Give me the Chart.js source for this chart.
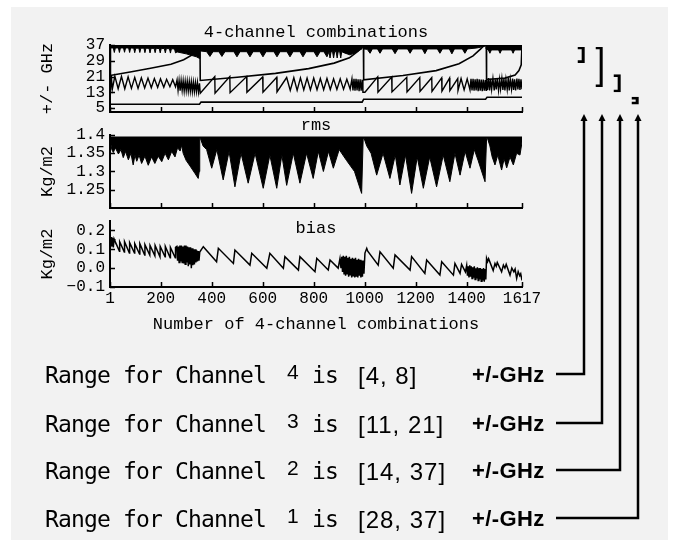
<!DOCTYPE html>
<html>
<head>
<meta charset="utf-8">
<title>4-channel combinations</title>
<script src="https://cdn.jsdelivr.net/npm/chart.js@4.4.1/dist/chart.umd.min.js"></script>
<style>
  html, body { margin: 0; padding: 0; background: #fff; }
  #page { position: relative; width: 677px; height: 548px; overflow: hidden; }
  #panel { position: absolute; left: 11px; top: 7px; width: 657px; height: 533px; background: #f2f2f2; }
  canvas { position: absolute; left: 0; top: 0; }
  .row { position: absolute; left: 45px; width: 560px; height: 30px; line-height: 30px; color: #000; white-space: nowrap; }
  .row span { position: absolute; top: 0; }
  .lbl { font: 23px "DejaVu Sans Mono", monospace; letter-spacing: -0.85px; }
  .num { font: 21px "Liberation Sans", Arial, sans-serif; left: 242px; }
  .row span.num { top: -2px; }
  .is { left: 267px; }
  .rng { font: 24px "Liberation Sans", Arial, sans-serif; letter-spacing: 1px; left: 313px; }
  .unit { font: bold 22px "Liberation Sans", Arial, sans-serif; letter-spacing: 0.4px; left: 427px; }
</style>
</head>
<body>
<div id="page">
  <div id="panel"></div>
  <canvas id="freqChart" width="677" height="548"></canvas>
  <canvas id="rmsChart" width="677" height="548"></canvas>
  <canvas id="biasChart" width="677" height="548"></canvas>
  <canvas id="rangeChart" width="677" height="548"></canvas>
</div>
<script>
// ---- data ----
const comboTicks = [1, 200, 400, 600, 800, 1000, 1200, 1400, 1617];
const ghzTicks = [5, 13, 21, 29, 37];
const rmsTicks = [1.25, 1.3, 1.35, 1.4];
const biasTicks = [-0.1, 0, 0.1, 0.2];

const channelNames = ['1', '2', '3', '4'];
const channelRanges = [[28, 37], [14, 37], [11, 21], [4, 8]];
const rowChannels = [4, 3, 2, 1];

// channel 1 is a dense band hanging from its upper limit; this is its lower edge
const ch1Ceiling = 37;
const ch1Low = [
  [1,21.5],[4,35.5],[14,35.5],[18,33.2],[22,35.5],[34,35.5],[38,33.2],[42,35.5],[54,35.5],[58,33.3],
  [62,35.5],[74,35.5],[78,33.2],[82,35.5],[94,35.4],[98,33.1],[102,35.4],[114,35.4],[118,33.2],[122,35.4],
  [134,35.4],[138,33.1],[142,35.4],[154,35.3],[158,33],[162,35.3],[174,35.3],[178,33.1],[182,35.3],[194,35.2],
  [198,33],[202,35.2],[214,35.2],[218,33],[222,35.2],[234,35.1],[238,32.9],[242,35.1],[254,35],[258,33],
  [264,33.5],[300,32.5],[340,31],[352,30.2],[354,36],
  [355,34],[380,33.6],[393,31.2],[405,33.6],[428,33.6],[440,31.2],[452,33.6],[487,33.6],[499,31],[511,33.6],
  [538,33.6],[550,31],[562,33.6],[589,33.6],[601,31],[613,33.6],[644,33.6],[656,31],[668,33.6],[695,33.6],
  [707,31],[719,33.6],[746,33.6],[758,31],[770,33.6],[801,33.6],[813,31],[825,33.6],[840,33.6],[852,31],
  [860,33.6],[864,30.4],[868,33.6],[874,33.6],[878,30.4],[882,33.6],[888,33.6],[892,30.4],[896,33.6],[902,33.6],
  [906,30.4],[910,33.6],[920,33],[942,32],[962,33],[975,34],[989,35],[993,36.5],
  [996,35],[1010,34.8],[1021,32.8],[1030,35],[1050,35],[1060,32.8],[1070,35],[1108,35],[1119,32.6],[1130,35],
  [1168,35],[1178,32.8],[1188,35],[1226,35],[1236,32.6],[1246,35],[1285,35],[1295,32.8],[1305,35],[1332,35],
  [1342,32.5],[1352,35],[1383,35],[1393,32.8],[1403,35],[1440,35.5],[1470,36.3],[1476,36.8],
  [1477,35],[1485,34.5],[1491,32.8],[1497,34.5],[1525,34.5],[1531,32.8],[1537,34.5],[1576,34.5],[1582,32.8],
  [1588,34.5],[1617,34.5]
];

const ch2Line = [
  [1,21.5],[80,23.3],[160,25.2],[240,27.2],[290,29.5],[330,32.5],[348,35.5],[354,37],
  [355,19],[500,20.6],[650,22.6],[780,25],[880,27.8],[940,30.5],[975,34],[990,37],[995,37],
  [996,19.3],[1150,21.5],[1280,24],[1370,27.5],[1425,31.5],[1455,35],[1470,37],[1477,37],
  [1478,19.5],[1550,20.2],[1590,21.8],[1605,24],[1614,27],[1617,37]
];

const ch3Line = [
  [1,21],[3,14],[6,21.5],[10,14.5],[20,21.2],[33,14.8],[46,21],[59,14.8],[72,20.8],[85,15],
  [98,20.6],[111,15],[124,20.4],[137,15.2],[150,20.2],[163,15.3],[175,20],[188,15.5],[199,19.8],[212,15.6],
  [223,19.6],[236,15.8],[247,19.4],[258,15.8],[264,19.3],[268,14],[272,19],[276,13.8],[280,19],[284,14],
  [288,18.8],[292,13.6],[296,18.6],[300,13.8],[304,18.6],[308,13.6],[312,18.4],[316,13.6],[320,18.4],[324,13.4],
  [328,18.2],[332,13.4],[336,18],[340,13.4],[344,18],[348,13.2],[352,17.6],
  [355,12.5],[412,21],[413,12.5],[471,21],[472,12.8],[537,21],[538,13],[600,20.8],[601,13],[655,20.6],
  [656,13.2],[694,20.5],[708,14],[722,20.4],[735,14],[748,20.3],[761,14.2],[774,20.2],[787,14.2],[800,20.2],
  [813,14.3],[826,20],[839,14.3],[852,20],[865,14.4],[878,19.8],[891,14.5],[904,19.8],[917,14.5],[930,19.6],
  [943,14.6],[950,19.8],[954,14],[958,19.8],[962,13.8],[966,19.8],[970,14],[974,19.6],[978,13.6],[982,19.6],
  [986,13.8],[990,19.4],[993,13],
  [1001,13],[1051,20.8],[1052,13],[1106,20.8],[1107,13.2],[1165,20.6],[1166,13.2],[1216,20.5],[1217,13.4],[1263,20.4],
  [1264,13.5],[1302,20.3],[1303,13.6],[1333,20.2],[1334,13.8],[1365,20],[1366,14],[1378,20],[1390,14.2],[1402,19.8],
  [1413,14.2],[1417,19.8],[1421,14],[1425,19.8],[1429,13.8],[1433,19.6],[1437,14],[1441,19.8],[1445,13.6],[1449,19.6],
  [1453,13.8],[1457,19.5],[1461,13.6],[1465,19.4],[1469,13.8],[1473,19.2],[1476,14],
  [1478,20],[1482,14.2],[1486,20.2],[1490,14],[1494,19.8],[1498,14.5],[1503,20],[1508,14],[1512,19.6],[1516,14.4],
  [1520,20],[1525,14],[1529,19.4],[1533,14.6],[1538,20],[1542,14.2],[1546,19.8],[1550,14],[1554,19.5],[1559,14.4],
  [1563,20.2],[1567,14],[1571,19.6],[1576,14.6],[1580,20],[1584,14.2],[1588,19.6],[1592,14],[1597,20],[1601,14.4],
  [1605,19.8],[1609,14.2],[1613,19.6],[1617,14.6]
];

const ch4Line = [[1,6.9],[352,6.9],[358,8.0],[990,8.0],[996,9.5],[1474,9.5],[1480,10.5],[1617,10.5]];

// rms is a dense band under a near-constant ceiling; this is its lower edge
const rmsCeiling = 1.396;
const rmsLow = [
  [1,1.39],[8,1.36],[14,1.352],[22,1.365],[34,1.348],[44,1.36],[53,1.338],[62,1.355],[73,1.332],[83,1.35],
  [92,1.318],[99,1.345],[106,1.328],[115,1.345],[125,1.322],[138,1.342],[151,1.317],[164,1.34],[177,1.322],[190,1.342],
  [204,1.327],[217,1.35],[230,1.332],[243,1.355],[256,1.34],[266,1.365],[276,1.356],[282,1.372],[288,1.35],[300,1.33],
  [315,1.315],[334,1.295],[347,1.281],[351,1.3],[353,1.39],
  [356,1.39],[366,1.37],[380,1.36],[400,1.309],[420,1.36],[445,1.277],[468,1.355],[491,1.258],[515,1.35],[543,1.268],
  [570,1.35],[602,1.254],[628,1.345],[655,1.254],[675,1.345],[694,1.262],[720,1.35],[746,1.268],[772,1.35],[798,1.281],
  [818,1.355],[838,1.30],[858,1.355],[877,1.309],[900,1.36],[929,1.33],[960,1.3],[988,1.24],[994,1.39],
  [998,1.39],[1008,1.37],[1025,1.35],[1047,1.29],[1072,1.35],[1099,1.281],[1120,1.345],[1138,1.263],[1160,1.345],[1184,1.24],
  [1206,1.34],[1230,1.254],[1255,1.34],[1282,1.258],[1308,1.345],[1334,1.272],[1354,1.35],[1374,1.29],[1394,1.355],[1413,1.309],
  [1430,1.36],[1445,1.33],[1472,1.272],[1478,1.39],
  [1482,1.39],[1491,1.37],[1500,1.34],[1511,1.318],[1522,1.345],[1537,1.304],[1547,1.335],[1557,1.31],[1570,1.34],[1583,1.318],
  [1596,1.35],[1609,1.345],[1617,1.38]
];

const biasLine = [
  [1,0.16],[3,0.11],[5,0.165],[8,0.115],[11,0.16],[14,0.11],[17,0.155],
  [20,0.145],[38,0.09],[39,0.14],[57,0.085],[58,0.14],[77,0.08],[78,0.135],[97,0.08],[98,0.13],[117,0.075],
  [118,0.13],[137,0.07],[138,0.125],[157,0.07],[158,0.12],[177,0.065],[178,0.12],[197,0.06],[198,0.115],[217,0.06],
  [218,0.115],[237,0.055],[238,0.11],[257,0.055],[258,0.11],
  [263,0.115],[266,0.04],[269,0.115],[272,0.03],[275,0.12],[278,0.035],[281,0.12],[284,0.03],[287,0.115],[290,0.025],
  [293,0.12],[296,0.02],[299,0.12],[302,0.03],[305,0.115],[308,0.01],[311,0.11],[314,0.02],[317,0.11],[320,0.0],
  [323,0.105],[326,0.015],[329,0.1],[332,0.02],[335,0.1],[338,0.03],[341,0.095],[344,0.035],[347,0.09],[350,0.04],
  [353,0.085],
  [367,0.114],[419,0.034],[426,0.105],[485,0.025],[491,0.096],[550,0.016],[557,0.079],[616,-0.001],[628,0.079],[681,-0.001],
  [687,0.061],[740,-0.01],[746,0.061],[805,-0.019],[812,0.052],[857,-0.01],[864,0.043],[896,0.0],[903,0.05],
  [907,0.0],[910,0.06],[913,-0.02],[916,0.065],[919,-0.03],[922,0.06],[925,-0.04],[928,0.065],[931,-0.03],[934,0.055],
  [937,-0.045],[940,0.06],[943,-0.035],[946,0.05],[949,-0.05],[952,0.055],[955,-0.04],[958,0.05],[961,-0.05],[964,0.055],
  [967,-0.045],[970,0.045],[973,-0.05],[976,0.05],[979,-0.04],[982,0.045],[985,-0.05],[988,0.04],[991,-0.045],[994,0.04],
  [997,-0.03],
  [1001,0.08],[1008,0.105],[1012,0.09],[1053,0.016],[1060,0.087],[1112,0.0],[1119,0.07],[1178,-0.01],[1184,0.061],[1236,-0.028],
  [1243,0.043],[1295,-0.037],[1302,0.034],[1348,-0.037],[1354,0.025],[1374,-0.028],[1380,0.02],[1395,-0.02],
  [1400,0.015],[1403,-0.04],[1406,0.01],[1409,-0.05],[1412,0.015],[1415,-0.045],[1418,0.01],[1421,-0.055],[1424,0.005],[1427,-0.05],
  [1430,0.01],[1433,-0.06],[1436,0.0],[1439,-0.055],[1442,0.005],[1445,-0.065],[1448,0.0],[1451,-0.06],[1454,0.0],[1457,-0.07],
  [1460,-0.005],[1463,-0.065],[1466,0.0],[1469,-0.072],[1472,-0.005],[1475,-0.06],
  [1478,0.052],[1482,0.035],[1486,0.05],[1504,-0.013],[1511,0.025],[1516,0.01],[1520,0.03],[1537,-0.019],[1544,0.016],[1550,0.0],
  [1555,0.02],[1570,-0.037],[1577,0.0],[1585,-0.02],[1590,-0.005],[1596,-0.054],[1602,-0.018],[1608,-0.04],[1612,-0.03],[1617,-0.065]
];

// ---- drawing ----
const INK = '#000';
const MONO = "'Liberation Mono', 'DejaVu Sans Mono', monospace";

// text lines under the plots, built from the channel ranges
const rowTops = [362, 411, 458, 506];
rowChannels.forEach((ch, k) => {
  const [lo, hi] = channelRanges[ch - 1];
  const row = document.createElement('div');
  row.className = 'row';
  row.style.top = rowTops[k] + 'px';
  row.innerHTML = '<span class="lbl" style="left:0">Range for Channel</span>' +
    '<span class="num">' + ch + '</span>' +
    '<span class="lbl is">is</span>' +
    '<span class="rng">[' + lo + ', ' + hi + ']</span>' +
    '<span class="unit">+/-GHz</span>';
  document.getElementById('page').appendChild(row);
});

// heading centred over the plot area
const panelTitle = {
  id: 'panelTitle',
  afterDraw(chart, args, opts) {
    if (!opts.text) return;
    const { ctx, chartArea } = chart;
    ctx.save();
    ctx.font = '17px ' + MONO;
    ctx.fillStyle = INK;
    ctx.textAlign = 'center';
    ctx.textBaseline = 'middle';
    ctx.fillText(opts.text, (chartArea.left + chartArea.right) / 2, chartArea.top + opts.offset);
    ctx.restore();
  }
};

// tick marks pointing into the plot
const innerTicks = {
  id: 'innerTicks',
  afterDatasetsDraw(chart, args, opts) {
    const len = opts.length || 5;
    const { ctx, chartArea, scales } = chart;
    ctx.save();
    ctx.strokeStyle = INK;
    ctx.lineWidth = 1.5;
    ctx.beginPath();
    scales.x.ticks.forEach(t => {
      const px = Math.round(scales.x.getPixelForValue(t.value)) + 0.5;
      ctx.moveTo(px, chartArea.bottom);
      ctx.lineTo(px, chartArea.bottom - len);
    });
    scales.y.ticks.forEach(t => {
      const py = Math.round(scales.y.getPixelForValue(t.value)) + 0.5;
      ctx.moveTo(chartArea.left, py);
      ctx.lineTo(chartArea.left + len, py);
    });
    ctx.stroke();
    ctx.restore();
  }
};

function panelChart(id, cfg) {
  const axisGrid = { display: true, drawOnChartArea: false, drawTicks: false };
  const axisBorder = { color: INK, width: 2 };
  return new Chart(document.getElementById(id), {
    type: 'line',
    data: { datasets: cfg.datasets },
    plugins: [panelTitle, innerTicks],
    options: {
      responsive: false,
      animation: false,
      devicePixelRatio: 1,
      events: [],
      layout: { padding: cfg.padding },
      elements: {
        point: { radius: 0 },
        line: { tension: 0, borderColor: INK, borderWidth: 1.6 }
      },
      plugins: {
        legend: { display: false },
        tooltip: { enabled: false },
        panelTitle: { text: cfg.title, offset: cfg.titleOffset },
        innerTicks: { length: 5 }
      },
      scales: {
        x: {
          type: 'linear', min: 1, max: 1617,
          afterBuildTicks: s => { s.ticks = comboTicks.map(v => ({ value: v })); },
          afterFit: s => { s.height = cfg.xHeight; },
          grid: axisGrid,
          border: axisBorder,
          ticks: {
            display: !!cfg.xTitle, autoSkip: false, maxRotation: 0, padding: 2,
            color: INK, font: { family: MONO, size: 16 },
            callback: v => String(v)
          },
          title: {
            display: !!cfg.xTitle, text: cfg.xTitle || '', color: INK,
            font: { family: MONO, size: 17 }, padding: { top: 0, bottom: 2 }
          }
        },
        y: {
          type: 'linear', min: cfg.yMin, max: cfg.yMax,
          afterBuildTicks: s => { s.ticks = cfg.yTicks.map(v => ({ value: v })); },
          afterFit: s => { s.width = 110; },
          grid: axisGrid,
          border: axisBorder,
          ticks: {
            autoSkip: false, padding: 5, color: INK,
            font: { family: MONO, size: 16 }, callback: cfg.yFormat
          },
          title: {
            display: true, text: cfg.yTitle, color: INK,
            font: { family: MONO, size: 17 }, padding: { top: 37, bottom: 0 }
          }
        }
      }
    }
  });
}

panelChart('freqChart', {
  title: '4-channel combinations', titleOffset: -13,
  padding: { left: 0, top: 45, right: 155, bottom: 436 }, xHeight: 0,
  yMin: 3, yMax: 37, yTicks: ghzTicks, yTitle: '+/- GHz', yFormat: v => String(v),
  datasets: [
    { data: ch1Low, fill: { value: ch1Ceiling }, backgroundColor: INK, borderWidth: 1 },
    { data: ch2Line, borderWidth: 1.6 },
    { data: ch3Line, borderWidth: 1.4 },
    { data: ch4Line, borderWidth: 1.6 }
  ]
});

panelChart('rmsChart', {
  title: 'rms', titleOffset: -10,
  padding: { left: 0, top: 135, right: 155, bottom: 340 }, xHeight: 0,
  yMin: 1.2, yMax: 1.4, yTicks: rmsTicks, yTitle: 'Kg/m2', yFormat: v => String(v),
  datasets: [
    { data: rmsLow, fill: { value: rmsCeiling }, backgroundColor: INK, borderWidth: 1 }
  ]
});

panelChart('biasChart', {
  title: 'bias', titleOffset: 7,
  padding: { left: 0, top: 221, right: 155, bottom: 211 }, xHeight: 50,
  xTitle: 'Number of 4-channel combinations',
  yMin: -0.1, yMax: 0.25, yTicks: biasTicks, yTitle: 'Kg/m2',
  yFormat: v => v.toFixed(1).replace('-', '\u2212'),
  datasets: [
    { data: biasLine, borderWidth: 1.5 }
  ]
});

// arrows from each bracket down to its text line
const rangeLinks = {
  id: 'rangeLinks',
  afterDraw(chart) {
    const { ctx, chartArea } = chart;
    const bars = chart.getDatasetMeta(0).data;
    const page = document.getElementById('page').getBoundingClientRect();
    const units = document.querySelectorAll('.row .unit');
    ctx.save();
    ctx.strokeStyle = INK;
    ctx.fillStyle = INK;
    ctx.lineWidth = 2.5;
    units.forEach((unit, k) => {
      const r = unit.getBoundingClientRect();
      const x = Math.round(bars[k].x + 3);
      const tipY = chartArea.bottom + 3;
      const y = Math.round(r.top + r.height / 2 - page.top) - 1;
      ctx.beginPath();
      ctx.moveTo(x, tipY + 5);
      ctx.lineTo(x, y);
      ctx.lineTo(Math.round(r.right - page.left + 11), y);
      ctx.stroke();
      ctx.beginPath();
      ctx.moveTo(x, tipY);
      ctx.lineTo(x - 3.5, tipY + 7);
      ctx.lineTo(x + 3.5, tipY + 7);
      ctx.closePath();
      ctx.fill();
    });
    ctx.restore();
  }
};

// channel ranges as open brackets on a GHz scale
new Chart(document.getElementById('rangeChart'), {
  type: 'bar',
  data: {
    labels: channelNames,
    datasets: [{
      data: channelRanges,
      backgroundColor: 'rgba(0,0,0,0)',
      borderColor: INK,
      borderWidth: { left: 0, top: 2, right: 2.5, bottom: 2 },
      borderSkipped: false,
      barThickness: 7
    }]
  },
  plugins: [rangeLinks],
  options: {
    responsive: false,
    animation: false,
    devicePixelRatio: 1,
    events: [],
    layout: { padding: { left: 572, right: 33, top: 47, bottom: 437 } },
    plugins: { legend: { display: false }, tooltip: { enabled: false } },
    scales: {
      x: { display: false, offset: true },
      y: { display: false, min: 0, max: 37 }
    }
  }
});
</script>
</body>
</html>
